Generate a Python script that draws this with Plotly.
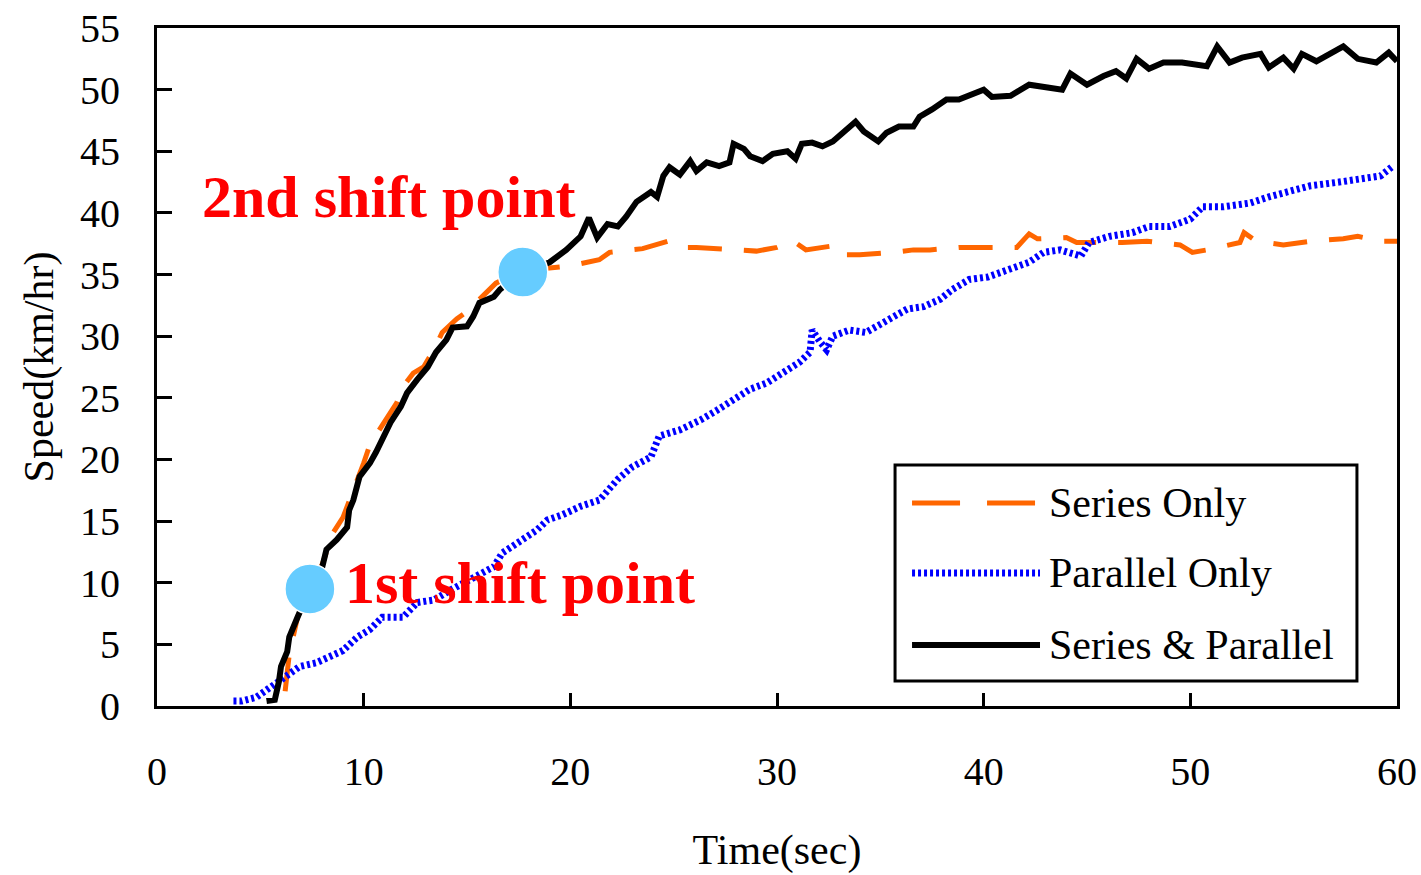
import plotly.graph_objects as go

# ---- data: vehicle speed (km/hr) vs time (sec) for three drive modes ----
series_time = [6.2, 6.3, 6.4, 6.8, 7.4, 8.0, 8.5, 9.0, 9.4, 10.0, 10.3, 10.7, 11.2, 11.6, 11.9,
               12.4, 12.9, 13.4, 13.8, 14.5, 15.0, 15.9, 16.4, 17.6, 19.1, 20.0, 21.4, 21.9,
               22.9, 23.5, 24.7, 25.3, 26.1, 27.9, 29.0, 30.0, 30.8, 31.4, 32.6, 32.9, 34.0,
               35.6, 36.6, 37.4, 38.8, 40.3, 41.6, 42.2, 42.6, 44.0, 44.5, 46.7, 47.9, 49.5,
               50.1, 50.8, 52.4, 52.6, 53.2, 54.5, 55.8, 57.4, 58.1, 59.2, 60.0]
series_speed = [1.2, 2.5, 4.2, 7.2, 9.5, 11.5, 14.0, 15.3, 17.0, 19.7, 21.2, 22.3, 23.5, 24.6, 25.9,
                27.0, 27.5, 28.9, 30.3, 31.4, 32.0, 33.5, 34.3, 35.3, 35.6, 35.7, 36.2, 36.8,
                37.0, 37.1, 37.7, 37.2, 37.2, 37.0, 36.9, 37.2, 37.7, 37.0, 37.3, 36.6, 36.6,
                36.8, 37.0, 37.0, 37.2, 37.2, 37.2, 38.3, 37.9, 38.0, 37.6, 37.6, 37.7, 37.4,
                36.8, 37.0, 37.6, 38.4, 37.7, 37.4, 37.7, 37.9, 38.1, 37.7, 37.7]

parallel_time = [3.7, 4.1, 4.8, 5.8, 6.4, 6.9, 7.7, 8.4, 9.0, 9.7, 10.3, 10.9, 11.9, 12.6, 13.4,
                 14.2, 15.1, 16.3, 16.7, 17.4, 18.4, 18.9, 19.6, 20.5, 21.4, 22.3, 23.0, 23.9,
                 24.3, 25.3, 26.3, 27.1, 27.9, 28.7, 29.5, 30.3, 31.1, 31.6, 31.7, 32.1, 32.4,
                 32.7, 33.5, 34.3, 34.8, 35.5, 36.3, 37.1, 37.9, 38.5, 39.3, 40.2, 41.3, 42.2,
                 42.9, 43.7, 44.7, 45.1, 46.1, 47.2, 48.0, 49.0, 50.0, 50.6, 51.6, 52.9, 53.8,
                 55.2, 55.8, 57.2, 58.2, 59.2, 59.8]
parallel_speed = [0.4, 0.4, 0.7, 1.9, 2.7, 3.2, 3.5, 4.0, 4.5, 5.6, 6.2, 7.2, 7.2, 8.4, 8.6,
                  9.4, 10.2, 11.3, 12.4, 13.2, 14.3, 15.1, 15.5, 16.2, 16.7, 18.4, 19.4, 20.2,
                  21.9, 22.4, 23.2, 24.0, 24.9, 25.7, 26.2, 27.1, 27.9, 28.7, 30.5, 29.5, 28.9,
                  30.0, 30.5, 30.3, 30.8, 31.4, 32.2, 32.4, 33.0, 33.8, 34.6, 34.8, 35.4, 36.0,
                  36.8, 37.0, 36.5, 37.6, 38.1, 38.4, 38.9, 38.9, 39.5, 40.5, 40.5, 40.8, 41.3,
                  41.9, 42.2, 42.5, 42.7, 43.0, 43.8]

combined_time = [5.3, 5.7, 5.9, 6.0, 6.3, 6.4, 6.8, 7.4, 8.0, 8.2, 8.7, 9.2, 9.3, 9.5, 9.8, 10.3,
                 10.6, 10.9, 11.3, 11.8, 12.1, 12.6, 13.1, 13.5, 14.0, 14.3, 15.0, 15.3, 15.6,
                 16.3, 16.6, 17.7, 19.0, 19.8, 20.5, 20.9, 21.3, 21.8, 22.3, 22.7, 23.2, 23.9,
                 24.2, 24.5, 24.8, 25.3, 25.8, 26.1, 26.6, 27.2, 27.7, 27.9, 28.4, 28.7, 29.3,
                 29.8, 30.5, 30.9, 31.2, 31.7, 32.2, 32.7, 33.2, 33.8, 34.2, 34.9, 35.3, 35.9,
                 36.6, 36.9, 37.5, 38.2, 38.8, 39.5, 40.0, 40.4, 41.3, 42.2, 43.8, 44.2, 45.0,
                 45.8, 46.4, 46.9, 47.4, 48.0, 48.7, 49.6, 50.8, 51.3, 51.9, 52.5, 53.4, 53.8,
                 54.5, 55.0, 55.4, 56.1, 56.7, 57.4, 58.1, 59.0, 59.6, 60.0]
combined_speed = [0.4, 0.5, 2.0, 3.2, 4.4, 5.6, 7.2, 9.5, 11.3, 12.7, 13.5, 14.5, 15.9, 16.7, 18.6,
                  19.7, 20.6, 21.6, 23.0, 24.3, 25.4, 26.5, 27.5, 28.7, 29.7, 30.7, 30.8, 31.6,
                  32.7, 33.2, 33.8, 35.2, 36.0, 37.0, 38.1, 39.6, 38.0, 39.1, 38.9, 39.7, 40.9,
                  41.7, 41.3, 43.0, 43.7, 43.1, 44.2, 43.4, 44.1, 43.8, 44.1, 45.6, 45.2, 44.6,
                  44.2, 44.8, 45.0, 44.4, 45.6, 45.7, 45.4, 45.8, 46.6, 47.4, 46.6, 45.8, 46.5,
                  47.0, 47.0, 47.8, 48.4, 49.2, 49.2, 49.6, 50.0, 49.4, 49.5, 50.4, 50.0, 51.3,
                  50.4, 51.1, 51.5, 50.9, 52.5, 51.7, 52.2, 52.2, 51.9, 53.5, 52.2, 52.6, 52.9,
                  51.8, 52.6, 51.7, 52.9, 52.3, 52.9, 53.5, 52.5, 52.2, 53.0, 52.3]

# gear shift points
shift_time = [7.4, 17.7]
shift_speed = [9.5, 35.2]
shift_labels = ["1st shift point", "2nd shift point"]

x_ticks = [0, 10, 20, 30, 40, 50, 60]
y_ticks = [0, 5, 10, 15, 20, 25, 30, 35, 40, 45, 50, 55]

legend_names = ["Series Only", "Parallel Only", "Series & Parallel"]

FONT = "Liberation Serif, Times New Roman, serif"
ORANGE = "#FF6600"
BLUE = "#0000FF"
BLACK = "#000000"

fig = go.Figure()

fig.add_trace(go.Scatter(x=series_time, y=series_speed, mode="lines", name=legend_names[0],
                         line=dict(color=ORANGE, width=5, dash="34px,22px"), showlegend=False))
fig.add_trace(go.Scatter(x=parallel_time, y=parallel_speed, mode="lines", name=legend_names[1],
                         line=dict(color=BLUE, width=7, dash="3px,3px"), showlegend=False))
fig.add_trace(go.Scatter(x=combined_time, y=combined_speed, mode="lines", name=legend_names[2],
                         line=dict(color=BLACK, width=6), showlegend=False))
fig.add_trace(go.Scatter(x=shift_time, y=shift_speed, mode="markers", showlegend=False,
                         marker=dict(size=50, color="#66CCFF", line=dict(color="white", width=1.5))))

# shift point labels
fig.add_annotation(x=9.0, y=10.0, xref="x", yref="y", text=shift_labels[0], showarrow=False,
                   xanchor="left", yanchor="middle",
                   font=dict(family=FONT, size=60, color="#FF0000", weight="bold"))
fig.add_annotation(x=2.08, y=41.3, xref="x", yref="y", text=shift_labels[1], showarrow=False,
                   xanchor="left", yanchor="middle",
                   font=dict(family=FONT, size=60, color="#FF0000", weight="bold"))

# legend box drawn in paper coordinates
box_x0, box_x1, box_y0, box_y1 = 0.5952, 0.9677, 0.0369, 0.3555
fig.add_shape(type="rect", xref="paper", yref="paper", x0=box_x0, x1=box_x1, y0=box_y0, y1=box_y1,
              line=dict(color=BLACK, width=3), fillcolor="white", layer="above")
row_y = [0.2994, 0.1962, 0.0900]
row_style = [dict(color=ORANGE, width=5, dash="48px,27px"),
             dict(color=BLUE, width=7, dash="3px,3px"),
             dict(color=BLACK, width=6)]
for name, yy, st in zip(legend_names, row_y, row_style):
    fig.add_shape(type="line", xref="paper", yref="paper", x0=0.6089, x1=0.7121, y0=yy, y1=yy,
                  line=st, layer="above")
    fig.add_annotation(x=0.7178, y=yy, xref="paper", yref="paper", text=name, showarrow=False,
                       xanchor="left", yanchor="middle",
                       font=dict(family=FONT, size=42, color=BLACK))

axis_common = dict(showline=True, linecolor=BLACK, linewidth=3, mirror=True, automargin=False,
                   ticks="inside", tickcolor=BLACK, tickwidth=3, showgrid=False, zeroline=False,
                   tickfont=dict(family=FONT, size=40, color=BLACK))

fig.update_xaxes(range=[0, 60], tickvals=x_ticks, ticklen=13, ticklabelstandoff=28,
                 title=dict(text="Time(sec)", font=dict(family=FONT, size=42, color=BLACK), standoff=42),
                 **axis_common)
fig.update_yaxes(range=[0, 55], tickvals=y_ticks, ticklen=15, ticklabelstandoff=26,
                 title=dict(text="Speed(km/hr)", font=dict(family=FONT, size=42, color=BLACK), standoff=14),
                 **axis_common)

fig.update_layout(width=1421, height=875, margin=dict(l=157, r=24, t=28, b=169),
                  paper_bgcolor="white", plot_bgcolor="white", showlegend=False,
                  font=dict(family=FONT, color=BLACK))

fig.write_html("out.html")
